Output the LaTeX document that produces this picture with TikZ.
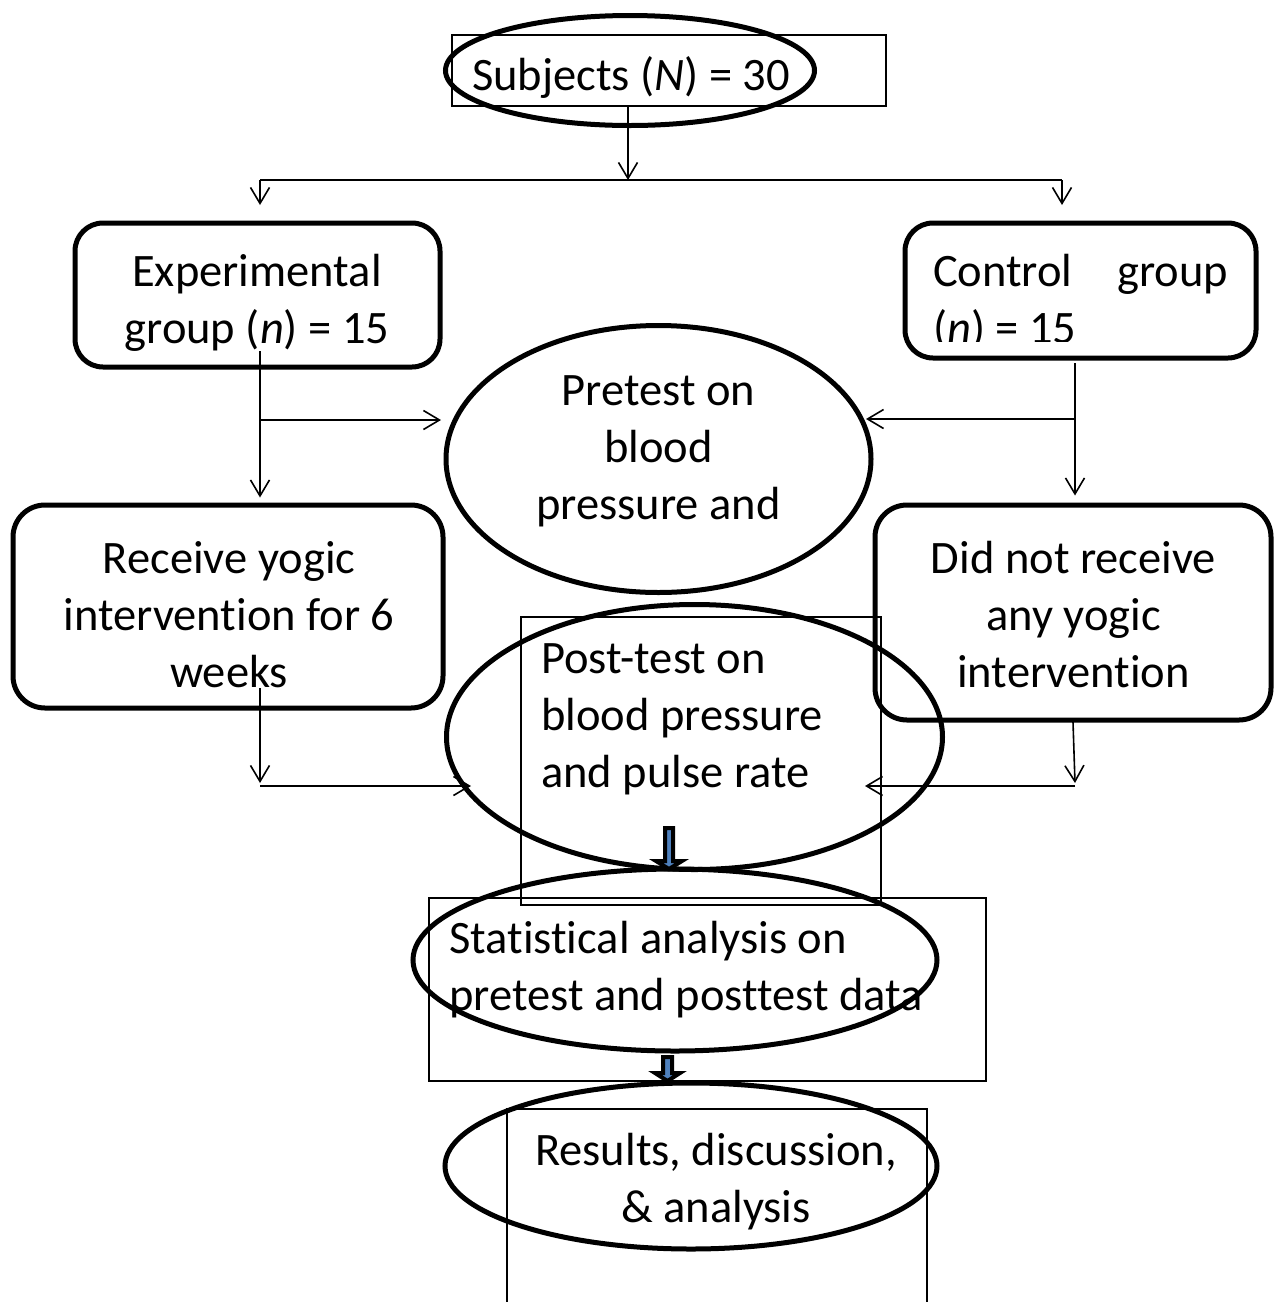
\documentclass[tikz,border=0pt]{standalone}
\usepackage{fontspec}
\setmainfont{Carlito}[Ligatures={NoCommon,NoContextual}]
\usetikzlibrary{shapes.geometric,arrows.meta}
\definecolor{arrowblue}{HTML}{4F81BD}
\tikzset{
  frame/.style={draw, line width=1.6pt, inner sep=0pt},
  ell/.style={draw, ellipse, line width=5pt, inner sep=0pt},
  rbox/.style={draw, line width=5pt, rounded corners=28pt, inner sep=0pt},
  txt/.style={inner sep=0pt, align=center},
  txtl/.style={inner sep=0pt, align=flush left, anchor=west},
  plainline/.style={line width=1.6pt},
  conn/.style={line width=1.6pt, -{Straight Barb[length=16pt,width=19pt]}},
  blockarrow/.style={fill=arrowblue, draw=black, line width=4pt, line join=miter}
}
\begin{document}
\begin{tikzpicture}[x=1pt,y=-1pt,font=\fontsize{46.5}{57}\selectfont]
\useasboundingbox (0,0) rectangle (1274,1302);

% ---------- Subjects ----------
\node[frame, minimum width=434pt, minimum height=71pt] (subjbox) at (669,70.5) {};
\node[ell, minimum width=369pt, minimum height=110pt] (subj) at (630,70.5) {};
\node[txt] (subjtext) at (631,77) {Subjects (\textit{N}) = 30};

% ---------- Groups ----------
\node[rbox, minimum width=365pt, minimum height=144pt] (exp) at (257.5,295) {};
\node[txt] (exptext) at (257,302.5) {Experimental\\group (\textit{n}) = 15};

\node[rbox, minimum width=351pt, minimum height=135pt] (ctrl) at (1080.5,290.5) {};
\begin{scope}
\clip (905,223) rectangle (1256,341);
\node[inner sep=0pt, text width=295pt, align=flush left] (ctrltext) at (1080.5,302) {Control\hfill group\\(\textit{n}) = 15};
\end{scope}

% ---------- Pretest ----------
\node[ell, minimum width=425pt, minimum height=267pt] (pre) at (658.5,459) {};
\node[txt] (pretext) at (658.5,451) {Pretest on\\blood\\pressure and};

% ---------- Treatment boxes ----------
\node[rbox, rounded corners=32pt, minimum width=430pt, minimum height=203pt] (rec) at (228,606.5) {};
\node[txt] (rectext) at (229,615) {Receive yogic\\intervention for 6\\weeks};

\node[rbox, rounded corners=32pt, minimum width=396pt, minimum height=215pt] (norec) at (1073,612.5) {};
\node[txt] (norectext) at (1073.5,615) {Did not receive\\any yogic\\intervention};

% ---------- Post-test ----------
\node[frame, minimum width=360pt, minimum height=288pt] (postbox) at (701,761) {};
\node[ell, minimum width=496pt, minimum height=265pt] (post) at (694.5,737) {};
\node[txtl] (posttext) at (541,719) {Post-test on\\blood pressure\\and pulse rate};

% ---------- Statistical analysis ----------
\node[frame, minimum width=557pt, minimum height=183pt] (statbox) at (707.5,989.5) {};
\node[ell, minimum width=524pt, minimum height=182pt] (stat) at (675,960) {};
\node[txtl] (stattext) at (449,970) {Statistical analysis on\\pretest and posttest data};

% ---------- Results ----------
\draw[plainline] (507,1310) -- (507,1109) -- (927,1109) -- (927,1310);
\node[ell, minimum width=492pt, minimum height=166pt] (res) at (691,1166) {};
\node[txt] (restext) at (716,1182) {Results, discussion,\\\& analysis};

% ---------- Connectors ----------
\coordinate (topsplit) at (628,180);
\coordinate (lsplit) at (260,180);
\coordinate (rsplit) at (1062,180);
\draw[conn] (subjbox.south -| topsplit) -- (topsplit);
\draw[plainline] (lsplit) -- (rsplit);
\draw[conn] (lsplit) -- ++(0,25);
\draw[conn] (rsplit) -- ++(0,25);

\coordinate (ea) at (260,351);
\coordinate (eb) at (260,420);
\coordinate (ebend) at (441,420);
\draw[conn, shorten >=5pt] (ea) -- (rec.north -| ea);
\draw[conn] (eb) -- (ebend);

\coordinate (ca) at (1075,363);
\coordinate (cb) at (1075,419);
\coordinate (cbend) at (866,419);
\draw[conn, shorten >=7pt] (ca) -- (norec.north -| ca);
\draw[conn] (cb) -- (cbend);

\coordinate (ra) at (260,688);
\coordinate (rb) at (260,786);
\coordinate (rbend) at (471,786);
\draw[conn] (ra) -- ([yshift=3pt]rb);
\draw[conn] (rb) -- (rbend);

\coordinate (da) at (1073,722);
\coordinate (db) at (1075,786);
\coordinate (dbend) at (865,786);
\draw[conn] (da) -- ([yshift=3pt]db);
\draw[conn] (db) -- (dbend);

% block arrows
\path[blockarrow] (665,828) -- (673,828) -- (673,861) -- (682,861) -- (669,869) -- (656,861) -- (665,861) -- cycle;
\path[blockarrow] (663,1057) -- (672,1057) -- (672,1073) -- (680,1073) -- (667.5,1081) -- (655,1073) -- (663,1073) -- cycle;

\end{tikzpicture}
\end{document}
